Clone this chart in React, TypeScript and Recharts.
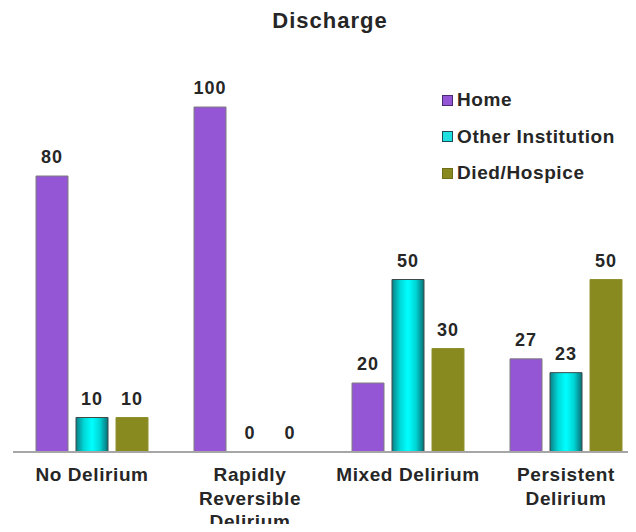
import React from 'react';
import { BarChart, Bar, XAxis, YAxis, Rectangle } from 'recharts';

const categories = ['No Delirium', 'Rapidly\nReversible\nDelirium', 'Mixed Delirium', 'Persistent\nDelirium'];
const home = [80, 100, 20, 27];
const otherInstitution = [10, 0, 50, 23];
const diedHospice = [10, 0, 30, 50];

const FONT = '"Liberation Sans", Arial, sans-serif';
const TEXT = '#262626';

const SERIES = [
  { key: 'home', name: 'Home', fill: '#9556d6', stroke: '#7d7d7d', swatch: '#9556d6', swatchStroke: '#4a2a70' },
  { key: 'other', name: 'Other Institution', fill: 'url(#cyanBar)', stroke: '#3c4a4a', swatch: '#1fe0e0', swatchStroke: '#1c4a5a' },
  { key: 'died', name: 'Died/Hospice', fill: '#88891e', stroke: '#8f9030', swatch: '#88891e', swatchStroke: '#6d6e18' },
];

const data = categories.map((name, i) => ({
  name,
  home: home[i],
  other: otherInstitution[i],
  died: diedHospice[i],
}));

function CategoryTick(props: any) {
  const { x, y, payload } = props;
  const lines = String(payload.value).split('\n');
  return (
    <g>
      {lines.map((line, i) => (
        <text
          key={i}
          x={x}
          y={y + 29 + i * 23.5}
          textAnchor="middle"
          fill={TEXT}
          style={{ fontFamily: FONT, fontSize: 19, fontWeight: 'bold', letterSpacing: 0.6 }}
        >
          {line}
        </text>
      ))}
    </g>
  );
}

// draws the bar and its value label, so that 0 values still get a label
function BarWithLabel(props: any) {
  const { x, y, width, height, value } = props;
  const v = Array.isArray(value) ? value[1] - value[0] : value;
  return (
    <g>
      {height > 0 && <Rectangle {...props} />}
      <text
        x={x + width / 2}
        y={y - 13}
        textAnchor="middle"
        fill={TEXT}
        style={{ fontFamily: FONT, fontSize: 18, fontWeight: 'bold', letterSpacing: 1 }}
      >
        {v}
      </text>
    </g>
  );
}

function LegendBox() {
  return (
    <div style={{ position: 'absolute', top: 88, left: 442, fontFamily: FONT, zIndex: 2 }}>
      {SERIES.map((s, i) => (
        <div key={s.key} style={{ display: 'flex', alignItems: 'center', height: 24, marginBottom: i < SERIES.length - 1 ? 12.5 : 0 }}>
          <span
            style={{
              width: 9,
              height: 9,
              background: s.swatch,
              border: `1px solid ${s.swatchStroke}`,
              marginRight: 4,
              display: 'inline-block',
            }}
          />
          <span style={{ fontSize: 19, fontWeight: 'bold', color: TEXT, letterSpacing: 0.6 }}>{s.name}</span>
        </div>
      ))}
    </div>
  );
}

export default function App() {
  return (
    <div style={{ position: 'relative', width: 636, height: 532, margin: -8, overflow: 'hidden', background: '#fff' }}>
      <div
        style={{
          position: 'absolute',
          top: 8,
          left: 330,
          transform: 'translateX(-50%)',
          whiteSpace: 'nowrap',
          fontFamily: FONT,
          fontSize: 22,
          fontWeight: 'bold',
          letterSpacing: 1,
          color: TEXT,
          zIndex: 2,
        }}
      >
        Discharge
      </div>
      <LegendBox />
      <BarChart
        width={660}
        height={532}
        data={data}
        margin={{ top: 107, right: 15, left: 13, bottom: 0 }}
        barSize={32}
        barGap={8}
      >
        <defs>
          <linearGradient id="cyanBar" x1="0" y1="0" x2="1" y2="0">
            <stop offset="0%" stopColor="#0a7f86" />
            <stop offset="25%" stopColor="#00d8d8" />
            <stop offset="50%" stopColor="#00ffff" />
            <stop offset="75%" stopColor="#00d4d4" />
            <stop offset="100%" stopColor="#0a6f76" />
          </linearGradient>
        </defs>
        <XAxis
          dataKey="name"
          height={80}
          interval={0}
          tickLine={false}
          tickSize={0}
          tickMargin={0}
          axisLine={{ stroke: '#a6a6a6', strokeWidth: 2 }}
          tick={<CategoryTick />}
        />
        <YAxis hide domain={[0, 100]} />
        {SERIES.map(s => (
          <Bar
            key={s.key}
            dataKey={s.key}
            name={s.name}
            fill={s.fill}
            stroke={s.stroke}
            strokeWidth={1}
            isAnimationActive={false}
            shape={<BarWithLabel />}
          />
        ))}
      </BarChart>
    </div>
  );
}
